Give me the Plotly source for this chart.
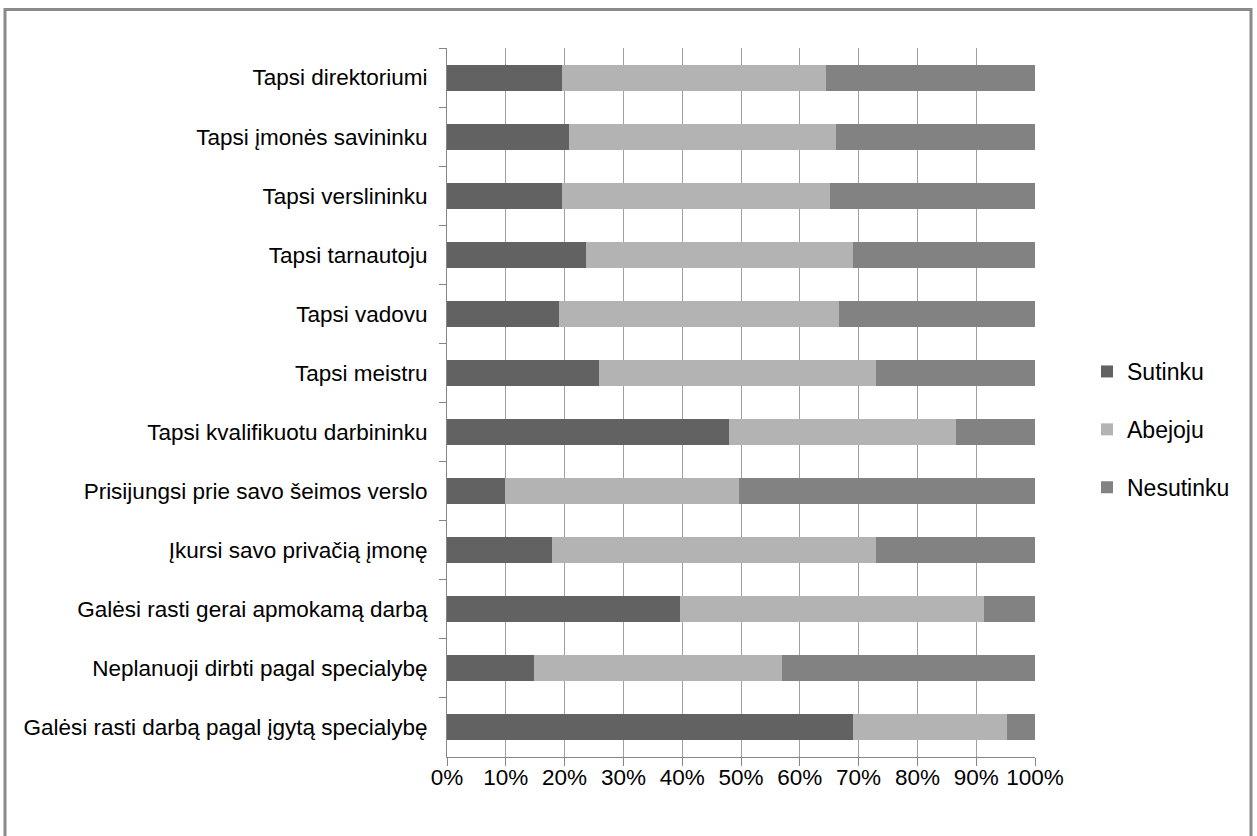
import plotly.graph_objects as go

categories = [
    "Tapsi direktoriumi",
    "Tapsi įmonės savininku",
    "Tapsi verslininku",
    "Tapsi tarnautoju",
    "Tapsi vadovu",
    "Tapsi meistru",
    "Tapsi kvalifikuotu darbininku",
    "Prisijungsi prie savo šeimos verslo",
    "Įkursi savo privačią įmonę",
    "Galėsi rasti gerai apmokamą darbą",
    "Neplanuoji dirbti pagal specialybę",
    "Galėsi rasti darbą pagal įgytą specialybę",
]
sutinku = [19.5, 20.7, 19.5, 23.6, 19.1, 25.8, 48.0, 9.9, 17.9, 39.7, 14.8, 69.1]
abejoju = [44.9, 45.5, 45.7, 45.5, 47.5, 47.2, 38.6, 39.7, 55.1, 51.6, 42.1, 26.1]
nesutinku = [35.6, 33.8, 34.8, 30.9, 33.4, 27.0, 13.4, 50.4, 27.0, 8.7, 43.1, 4.8]
series_names = ["Sutinku", "Abejoju", "Nesutinku"]
tick_values = [0, 10, 20, 30, 40, 50, 60, 70, 80, 90, 100]
tick_labels = ["0%", "10%", "20%", "30%", "40%", "50%", "60%", "70%", "80%", "90%", "100%"]

colors = ["#626262", "#b3b3b3", "#828282"]
FONT = "Liberation Sans Narrow, Arial Narrow, Liberation Sans, sans-serif"

fig = go.Figure()
for name, vals, col in zip(series_names, [sutinku, abejoju, nesutinku], colors):
    fig.add_trace(go.Bar(
        y=categories, x=vals, name=name, orientation="h",
        marker=dict(color=col, line=dict(width=0)),
        legendgroup=name, hoverinfo="skip",
    ))

W, H = 1257, 836
L, R, T, B = 447, 222, 48, 79
pw, ph = W - L - R, H - T - B

def px_x(x):
    return (x - L) / pw

def px_y(y):
    return (H - B - y) / ph

fig.update_layout(
    width=W, height=H,
    margin=dict(l=L, r=R, t=T, b=B, autoexpand=False),
    barmode="stack", bargap=0.56,
    paper_bgcolor="white", plot_bgcolor="white",
    font=dict(family=FONT, size=22.5, color="#000000"),
    showlegend=True,
    legend=dict(
        x=px_x(1087), y=px_y(350), xanchor="left", yanchor="top",
        traceorder="grouped", tracegroupgap=25,
        font=dict(family=FONT, size=23, color="#000000"),
        itemwidth=30, bgcolor="rgba(0,0,0,0)",
    ),
    xaxis=dict(
        range=[0, 100], tickvals=tick_values, ticktext=tick_labels,
        showgrid=True, gridcolor="#a0a0a0", gridwidth=1,
        showline=True, linecolor="#868686", linewidth=1,
        ticks="outside", ticklen=8, tickcolor="#868686",
        tickfont=dict(family=FONT, size=22.5), zeroline=False,
        tickangle=0, automargin=False, fixedrange=True,
        ticklabelstandoff=-8,
    ),
    yaxis=dict(
        autorange="reversed", type="category",
        showline=True, linecolor="#868686", linewidth=1,
        ticks="outside", ticklen=7, tickcolor="#868686",
        tickson="boundaries", showgrid=False,
        tickfont=dict(family=FONT, size=22.5),
        ticklabelstandoff=14, automargin=False, fixedrange=True,
    ),
    shapes=[
        dict(type="rect", xref="paper", yref="paper",
             x0=px_x(5), x1=px_x(1251), y0=px_y(880), y1=px_y(9.5),
             line=dict(color="#8a8a8a", width=3), fillcolor="rgba(0,0,0,0)",
             layer="above"),
    ],
)

fig.write_html(
    "out.html",
    config={"displayModeBar": False, "staticPlot": False},
    post_script="document.body.style.margin='0';document.body.style.overflow='hidden';",
)
